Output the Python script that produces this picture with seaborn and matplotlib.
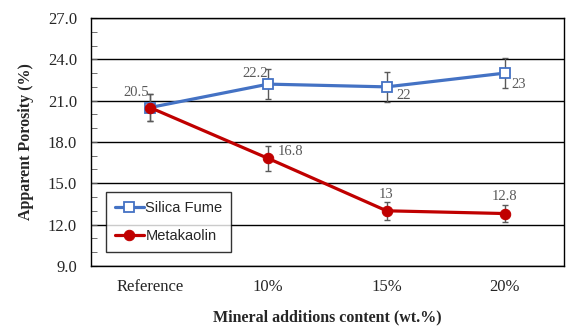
import matplotlib
matplotlib.use("Agg")
import matplotlib.pyplot as plt
from matplotlib.ticker import MultipleLocator
import seaborn as sns
import pandas as pd

# data
categories = ["Reference", "10%", "15%", "20%"]
silica_fume = [20.5, 22.2, 22.0, 23.0]
silica_err = [1.0, 1.1, 1.1, 1.1]
metakaolin = [20.5, 16.8, 13.0, 12.8]
meta_err = [1.0, 0.9, 0.65, 0.6]
silica_labels = ["20.5", "22.2", "22", "23"]
meta_labels = ["", "16.8", "13", "12.8"]

df = pd.DataFrame({
    "cat": categories * 2,
    "val": silica_fume + metakaolin,
    "series": ["Silica Fume"] * 4 + ["Metakaolin"] * 4,
})

sns.set_style("white")
plt.rcParams["font.family"] = ["Liberation Serif", "DejaVu Serif"]

fig = plt.figure(figsize=(5.79, 3.34), dpi=100)
ax = fig.add_axes([0.157, 0.204, 0.817, 0.742])

blue = "#4472C4"
red = "#C00000"
gray = "#595959"

xs = list(range(len(categories)))
ax.errorbar(xs, silica_fume, yerr=silica_err, fmt="none", ecolor=gray,
            elinewidth=1, capsize=2.5, capthick=1, zorder=2)
ax.errorbar(xs, metakaolin, yerr=meta_err, fmt="none", ecolor=gray,
            elinewidth=1, capsize=2.5, capthick=1, zorder=2)

sns.lineplot(data=df[df.series == "Silica Fume"], x="cat", y="val", sort=False,
             color=blue, lw=2.3, marker="s", markersize=7, markerfacecolor="white",
             markeredgecolor=blue, markeredgewidth=1.3, ax=ax, zorder=3,
             label="Silica Fume")
sns.lineplot(data=df[df.series == "Metakaolin"], x="cat", y="val", sort=False,
             color=red, lw=2.3, marker="o", markersize=7.5, markerfacecolor=red,
             markeredgecolor=red, ax=ax, zorder=4, label="Metakaolin")

# data labels
lab = dict(textcoords="offset points", fontsize=10.5, color=gray, va="center")
ax.annotate(silica_labels[0], (0, silica_fume[0]), xytext=(-10, 11), ha="center",
            arrowprops=dict(arrowstyle="-", color="#A6A6A6", lw=0.6,
                            shrinkA=2, shrinkB=0), **lab)
ax.annotate(silica_labels[1], (1, silica_fume[1]), xytext=(-9.5, 8), ha="center", **lab)
ax.annotate(silica_labels[2], (2, silica_fume[2]), xytext=(7, -6), ha="left", **lab)
ax.annotate(silica_labels[3], (3, silica_fume[3]), xytext=(4.5, -8), ha="left", **lab)
ax.annotate(meta_labels[1], (1, metakaolin[1]), xytext=(6.5, 4.7), ha="left", **lab)
ax.annotate(meta_labels[2], (2, metakaolin[2]), xytext=(0, 12), ha="center", **lab)
ax.annotate(meta_labels[3], (3, metakaolin[3]), xytext=(0, 12), ha="center", **lab)

ax.set_xlim(-0.5, 3.5)
ax.set_ylim(9, 27)
ax.yaxis.set_major_locator(MultipleLocator(3))
ax.yaxis.set_minor_locator(MultipleLocator(1))
ax.set_yticklabels([f"{v:.1f}" for v in ax.get_yticks()])
ax.grid(axis="y", which="major", color="black", lw=1)
ax.tick_params(axis="y", which="both", direction="in", left=True, length=4,
               color=gray, labelsize=12, pad=10)
ax.tick_params(axis="x", bottom=False, labelsize=12, pad=6)
for s in ax.spines.values():
    s.set_color("black")
    s.set_linewidth(1)

ax.set_xlabel("Mineral additions content (wt.%)", fontsize=11.5, fontweight="bold",
              labelpad=10)
ax.set_ylabel("Apparent Porosity (%)", fontsize=11.5, fontweight="bold", labelpad=10)

leg = ax.legend(loc="lower left", bbox_to_anchor=(0.032, 0.056),
                frameon=True, fancybox=False, edgecolor="black",
                prop={"family": "Liberation Sans", "size": 10.5},
                handlelength=2.0, handletextpad=0.1, labelspacing=1.0,
                borderpad=0.6, borderaxespad=0)
leg.get_frame().set_linewidth(1)

fig.savefig("out.png", dpi=100)
